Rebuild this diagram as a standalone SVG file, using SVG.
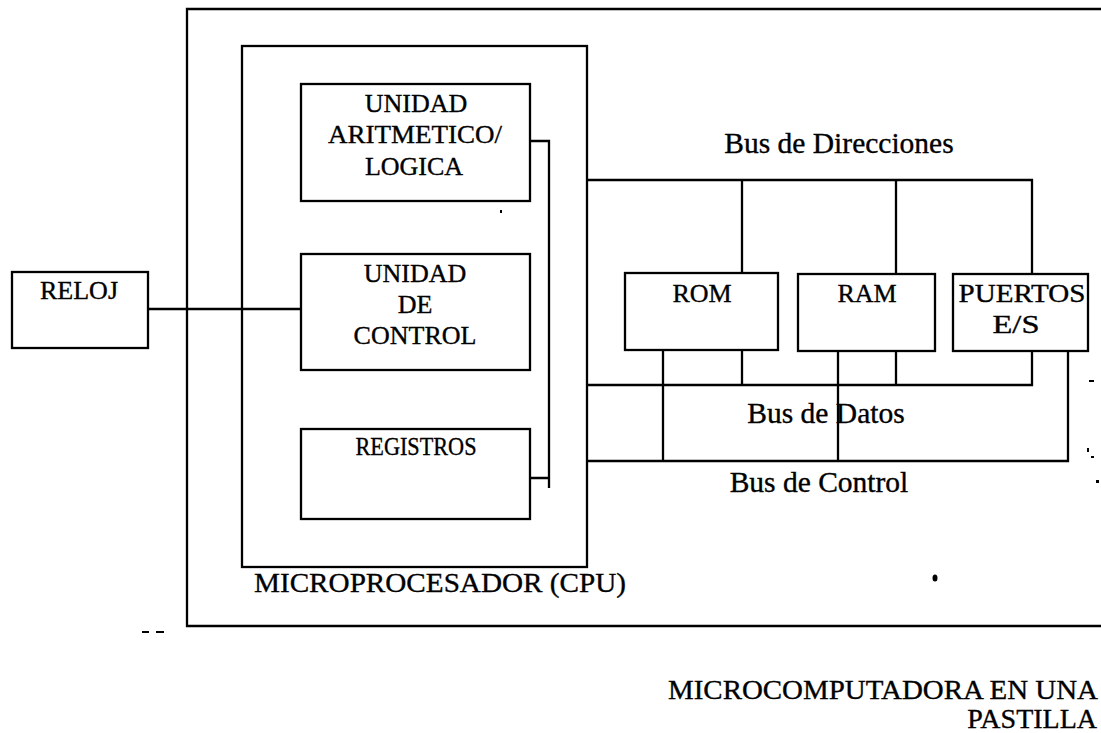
<svg xmlns="http://www.w3.org/2000/svg" width="1101" height="733" viewBox="0 0 1101 733">
<style>
.box{fill:none;stroke:#000;stroke-width:2.3}
.ln{fill:none;stroke:#000;stroke-width:2.3}
.t{font-family:"Liberation Serif","Times New Roman",serif;font-size:26px;fill:#000;stroke:#000;stroke-width:0.35;text-anchor:middle}
.b{font-family:"Liberation Serif","Times New Roman",serif;font-size:29.5px;fill:#000;stroke:#000;stroke-width:0.35;text-anchor:middle}
.tl{font-family:"Liberation Serif","Times New Roman",serif;font-size:28px;fill:#000;stroke:#000;stroke-width:0.35}
.speck{fill:#000}
</style>
<rect width="1101" height="733" fill="#fff"/>
<g id="chip">
<path class="ln" d="M1101,9 H187 V626 H1101"/>
<text class="tl" x="1098" y="699" text-anchor="end" textLength="430" lengthAdjust="spacingAndGlyphs">MICROCOMPUTADORA EN UNA</text>
<text class="tl" x="1097" y="728" text-anchor="end">PASTILLA</text>
</g>
<g id="cpu">
<rect class="box" x="242" y="46" width="345" height="521"/>
<text class="tl" x="254" y="592" textLength="372" lengthAdjust="spacingAndGlyphs">MICROPROCESADOR (CPU)</text>
</g>
<g id="alu">
<rect class="box" x="301" y="84" width="229" height="117"/>
<text class="t" x="416" y="112">UNIDAD</text>
<text class="t" x="415" y="143" textLength="174" lengthAdjust="spacingAndGlyphs">ARITMETICO/</text>
<text class="t" x="414" y="175">LOGICA</text>
</g>
<g id="uc">
<rect class="box" x="301" y="254" width="229" height="116"/>
<text class="t" x="415" y="282">UNIDAD</text>
<text class="t" x="415" y="313">DE</text>
<text class="t" x="415" y="344">CONTROL</text>
</g>
<g id="registros">
<rect class="box" x="301" y="429" width="229" height="90"/>
<text class="t" x="416" y="455" textLength="121" lengthAdjust="spacingAndGlyphs">REGISTROS</text>
</g>
<g id="reloj">
<rect class="box" x="12" y="272" width="136" height="76"/>
<text class="t" x="79" y="299">RELOJ</text>
</g>
<g id="rom">
<rect class="box" x="625" y="273" width="153" height="77"/>
<text class="t" x="702" y="302">ROM</text>
</g>
<g id="ram">
<rect class="box" x="798" y="274" width="137" height="77"/>
<text class="t" x="867" y="302">RAM</text>
</g>
<g id="puertos">
<rect class="box" x="953" y="274" width="135" height="77"/>
<text class="t" x="1022" y="302" textLength="127" lengthAdjust="spacingAndGlyphs">PUERTOS</text>
<text class="t" x="1016" y="333" textLength="47" lengthAdjust="spacingAndGlyphs">E/S</text>
</g>
<g id="connectors">
<path class="ln" d="M148,309 H301"/>
<path class="ln" d="M530,141 H549 V488 M530,478 H549"/>
<path class="ln" d="M587,180 H1032 V274 M742,180 V273 M896,180 V274"/>
<path class="ln" d="M587,385 H1032 V351 M742,385 V350 M896,385 V351"/>
<path class="ln" d="M587,461 H1068 V351 M663,461 V350 M838,461 V351"/>
<text class="b" x="839" y="153">Bus de Direcciones</text>
<text class="b" x="826" y="423">Bus de Datos</text>
<text class="b" x="819" y="492">Bus de Control</text>
</g>
<g id="specks">
<ellipse class="speck" cx="935" cy="578" rx="2.5" ry="3.5"/>
<rect class="speck" x="500" y="210" width="2" height="3"/>
<rect class="speck" x="142" y="631" width="7" height="2"/>
<rect class="speck" x="156" y="631" width="8" height="2"/>
<rect class="speck" x="1089" y="380" width="5" height="2"/>
<rect class="speck" x="1087" y="448" width="2" height="4"/>
<rect class="speck" x="1091" y="456" width="3" height="2"/>
<rect class="speck" x="1096" y="480" width="3" height="3"/>
</g>
</svg>
